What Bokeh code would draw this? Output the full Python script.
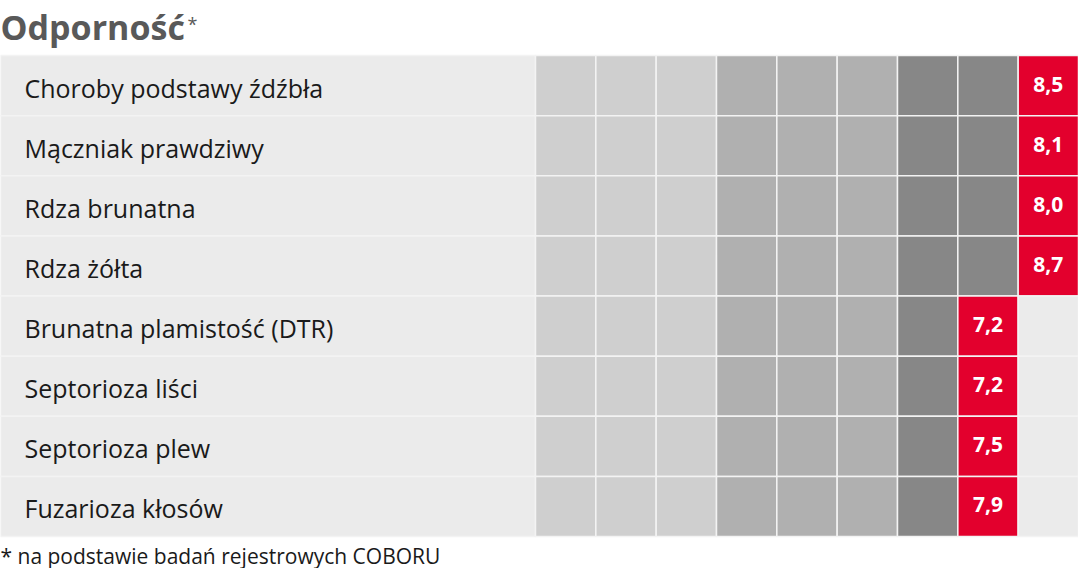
from bokeh.plotting import figure
from bokeh.models import Range1d, ColumnDataSource
from bokeh.core.properties import value
from bokeh.embed import file_html
from bokeh.resources import INLINE
import math

# ---- data ----
diseases = ["Choroby podstawy źdźbła", "Mączniak prawdziwy", "Rdza brunatna", "Rdza żółta",
            "Brunatna plamistość (DTR)", "Septorioza liści", "Septorioza plew", "Fuzarioza kłosów"]
scores = [8.5, 8.1, 8.0, 8.7, 7.2, 7.2, 7.5, 7.9]
score_labels = ["8,5", "8,1", "8,0", "8,7", "7,2", "7,2", "7,5", "7,9"]
scale_steps = [1, 2, 3, 4, 5, 6, 7, 8, 9]
step_shades = ["#cfcfcf", "#cfcfcf", "#cfcfcf", "#b0b0b0", "#b0b0b0", "#b0b0b0", "#878787", "#878787", "#878787"]
title_text = "Odporność"
footnote = "* na podstawie badań rejestrowych COBORU"

# ---- layout (pixels) ----
W, H = 1078, 568
top0 = 55.0
row_h = 60.125
col_w = 543.0 / 9
label_w = W - 9 * col_w
RED = "#e3002d"
EMPTY = "#ebebeb"
SEP = "#f3f3f3"

p = figure(width=W, height=H, output_backend="svg", toolbar_location=None,
           x_range=Range1d(0, W), y_range=Range1d(H, 0), min_border=0)
p.axis.visible = False
p.grid.visible = False
p.outline_line_color = None
p.background_fill_color = "white"

# label backgrounds
n = len(diseases)
lt = [top0 + i * row_h for i in range(n)]
lb = [top0 + (i + 1) * row_h for i in range(n)]
p.quad(left=[0] * n, right=[label_w] * n, top=lt, bottom=lb,
       fill_color=EMPTY, line_color=SEP, line_width=1.5)

# cells
cl, cr, ct, cb, cc = [], [], [], [], []
vx, vy = [], []
for i, v in enumerate(scores):
    pos = math.floor(v) + 1
    for s in scale_steps:
        cl.append(label_w + (s - 1) * col_w)
        cr.append(label_w + s * col_w)
        ct.append(top0 + i * row_h)
        cb.append(top0 + (i + 1) * row_h)
        if s < pos:
            cc.append(step_shades[s - 1])
        elif s == pos:
            cc.append(RED)
        else:
            cc.append(EMPTY)
    vx.append(label_w + (pos - 0.5) * col_w)
    vy.append(top0 + (i + 0.5) * row_h - 1.5)
p.quad(source=ColumnDataSource(dict(l=cl, r=cr, t=ct, b=cb, c=cc)),
       left="l", right="r", top="t", bottom="b", fill_color="c", line_color=SEP, line_width=1.5)

# labels
p.text(x=[24] * n, y=[top0 + (i + 0.5) * row_h + 2 for i in range(n)],
       text=diseases, text_font=value("Open Sans"), text_font_size="25px",
       text_color="#1a1a1a", text_baseline="middle", text_align="left")

p.text(x=vx, y=vy, text=score_labels, text_font=value("Open Sans"), text_font_size="21px",
       text_font_style="bold", text_color="white", text_baseline="middle", text_align="center")

# title
p.text(x=[0], y=[26], text=[title_text], text_font=value("Open Sans"), text_font_size="34px",
       text_font_style="bold", text_color="#595959", text_baseline="middle", text_align="left")
p.text(x=[187], y=[23], text=["*"], text_font=value("Open Sans"), text_font_size="18px",
       text_color="#595959", text_baseline="middle", text_align="left")

# footnote
p.text(x=[0], y=[555], text=[footnote], text_font=value("Open Sans"), text_font_size="21px",
       text_color="#1a1a1a", text_baseline="middle", text_align="left")

open("out.html", "w").write(file_html(p, INLINE))
